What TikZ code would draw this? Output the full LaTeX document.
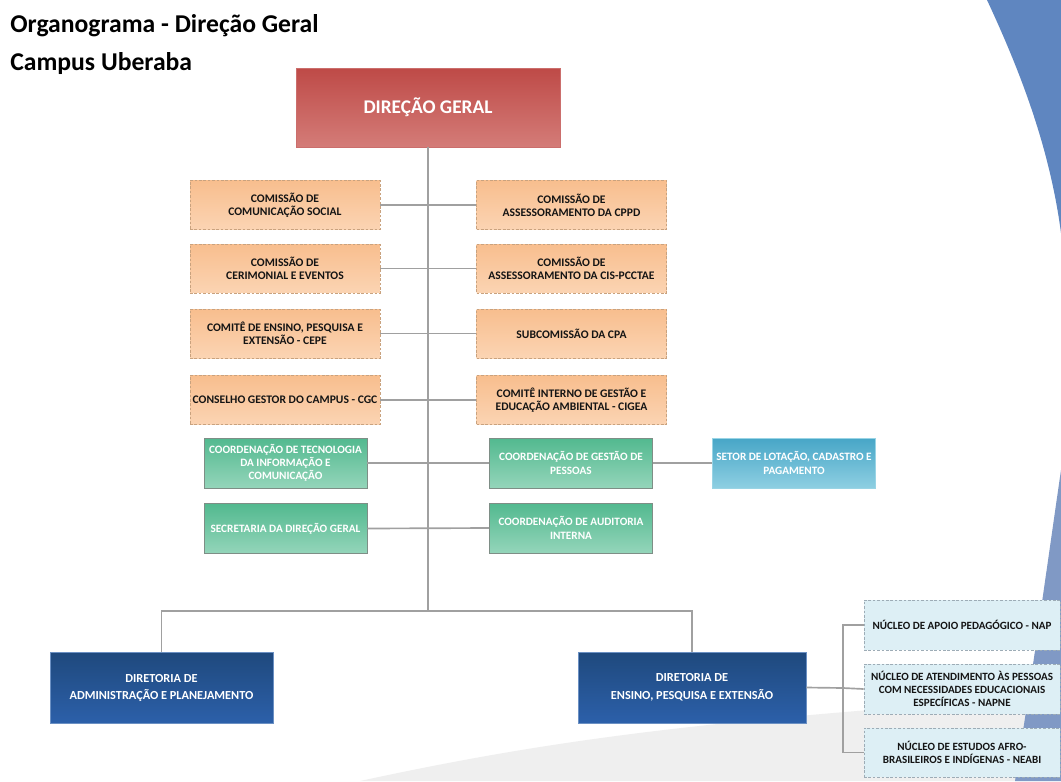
\documentclass[tikz,border=0pt]{standalone}
\usepackage{fontspec}
\setmainfont{Carlito}

\definecolor{dgtop}{HTML}{BE4A47}
\definecolor{dgbot}{HTML}{D47C78}
\definecolor{orgtop}{HTML}{F8BE8E}
\definecolor{orgbot}{HTML}{FBD4B3}
\definecolor{orgdash}{HTML}{C9A27E}
\definecolor{grntop}{HTML}{52B98F}
\definecolor{grnbot}{HTML}{94D5BA}
\definecolor{grnline}{HTML}{7E8E86}
\definecolor{settop}{HTML}{47A6C7}
\definecolor{setbot}{HTML}{8ECFE2}
\definecolor{dirtop}{HTML}{1F497D}
\definecolor{dirbot}{HTML}{2C60AA}
\definecolor{nucfill}{HTML}{DDEFF5}
\definecolor{nucdash}{HTML}{9DACB6}
\definecolor{linegray}{HTML}{A0A0A0}
\definecolor{txtdark}{HTML}{141414}
\definecolor{bgblue}{HTML}{5F86C0}
\definecolor{bgblue2}{HTML}{8099C5}
\definecolor{bggray}{HTML}{EFEFEF}

\tikzset{
  conn/.style={draw=linegray, line width=0.95pt},
  dgbox/.style={top color=dgtop, bottom color=dgbot, draw=dgtop!80!white,
    minimum width=5.28cm, minimum height=1.58cm, text=white,
    font=\fontsize{11}{13}\selectfont\bfseries},
  comissao/.style={top color=orgtop, bottom color=orgbot, draw=orgdash,
    dash pattern=on 1.5pt off 1pt, minimum width=3.8cm, minimum height=0.98cm,
    align=center, inner sep=1pt, text=txtdark,
    font=\fontsize{6.6}{7.6}\selectfont\bfseries},
  coordbox/.style={top color=grntop, bottom color=grnbot, draw=grnline,
    minimum width=3.26cm, minimum height=1cm, align=center, inner sep=1pt,
    text=white, font=\fontsize{6.4}{7.6}\selectfont\bfseries},
  setorbox/.style={coordbox, top color=settop, bottom color=setbot,
    draw=setbot!90!white},
  dirbox/.style={top color=dirtop, bottom color=dirbot, draw=dirbot!70!white,
    minimum height=1.42cm, align=center, inner sep=1pt, text=white,
    font=\fontsize{7}{10}\selectfont\bfseries},
  nucleo/.style={fill=nucfill, draw=nucdash, dash pattern=on 1.5pt off 1pt,
    minimum width=3.92cm, minimum height=1cm, align=center, inner sep=1pt,
    text=txtdark, font=\fontsize{6.3}{7.5}\selectfont\bfseries}
}

\begin{document}
\begin{tikzpicture}[x=0.02cm,y=-0.02cm]
% page and background
\fill[white] (0,0) rectangle (1061,781);
\fill[bggray] (360,781) .. controls (550,740) and (700,720) .. (1061,696) -- (1061,781) -- cycle;
\fill[bgblue] (987,0) .. controls (1022,75) and (1050,150) .. (1061,233) -- (1061,0) -- cycle;
\fill[bgblue2] (1061,470) .. controls (1045,580) and (1030,690) .. (1015,781) -- (1061,781) -- cycle;

% titles
\node[anchor=base west, inner sep=0, font=\fontsize{14.6}{18}\selectfont\bfseries] (titulo) at (10,32) {Organograma - Direção Geral};
\node[anchor=base west, inner sep=0, font=\fontsize{14.6}{18}\selectfont\bfseries] (campus) at (10,70) {Campus Uberaba};

% direcao geral
\node[dgbox] (dg) at (428,107.5) {DIREÇÃO GERAL};
\coordinate (bar) at (428,611);

% comissoes
\node[comissao] (com) at (285,205) {COMISSÃO DE\\COMUNICAÇÃO SOCIAL};
\node[comissao] (cer) at (285,268.5) {COMISSÃO DE\\CERIMONIAL E EVENTOS};
\node[comissao] (cepe) at (285,333.5) {COMITÊ DE ENSINO, PESQUISA E\\EXTENSÃO - CEPE};
\node[comissao] (cgc) at (285,400) {CONSELHO GESTOR DO CAMPUS - CGC};
\node[comissao] (cppd) at (571.5,205) {COMISSÃO DE\\ASSESSORAMENTO DA CPPD};
\node[comissao] (cis) at (571.5,268.5) {COMISSÃO DE\\ASSESSORAMENTO DA CIS-PCCTAE};
\node[comissao] (cpa) at (571.5,333.5) {SUBCOMISSÃO DA CPA};
\node[comissao] (cigea) at (571.5,400) {COMITÊ INTERNO DE GESTÃO E\\EDUCAÇÃO AMBIENTAL - CIGEA};

% coordenacoes
\node[coordbox] (cti) at (285.5,463) {COORDENAÇÃO DE TECNOLOGIA\\DA INFORMAÇÃO E\\COMUNICAÇÃO};
\node[coordbox] (sec) at (285.5,528.5) {SECRETARIA DA DIREÇÃO GERAL};
\node[coordbox] (cgp) at (571,463) {COORDENAÇÃO DE GESTÃO DE\\PESSOAS};
\node[coordbox] (cai) at (571,528) {COORDENAÇÃO DE AUDITORIA\\INTERNA};
\node[setorbox] (slcp) at (794,463) {SETOR DE LOTAÇÃO, CADASTRO E\\PAGAMENTO};

% diretorias
\node[dirbox, minimum width=4.46cm] (dap) at (161.5,688) {DIRETORIA DE\\ADMINISTRAÇÃO E PLANEJAMENTO};
\node[dirbox, minimum width=4.56cm] (dpe) at (692,687.5) {DIRETORIA DE\\ENSINO, PESQUISA E EXTENSÃO};
\coordinate (garfo) at (843,688);

% nucleos
\node[nucleo] (nap) at (962,625) {NÚCLEO DE APOIO PEDAGÓGICO - NAP};
\node[nucleo] (napne) at (962,689) {NÚCLEO DE ATENDIMENTO ÀS PESSOAS\\COM NECESSIDADES EDUCACIONAIS\\ESPECÍFICAS - NAPNE};
\node[nucleo, minimum height=0.98cm] (neabi) at (962,752.5) {NÚCLEO DE ESTUDOS AFRO-\\BRASILEIROS E INDÍGENAS - NEABI};

% ligacoes
\draw[conn] (dg.south) -- (bar);
\draw[conn] (com.east) -- (cppd.west);
\draw[conn] (cer.east) -- (cis.west);
\draw[conn] (cepe.east) -- (cpa.west);
\draw[conn] (cgc.east) -- (cigea.west);
\draw[conn] (cti.east) -- (cgp.west);
\draw[conn] (sec.east) -- (cai.west);
\draw[conn] (cgp.east) -- (slcp.west);
\draw[conn] (dap.north) |- (bar) -| (dpe.north);
\draw[conn] (dpe.east) -- (garfo);
\draw[conn] (nap.west) -| (garfo) |- (neabi.west);
\draw[conn] (garfo) -- (napne.west);
\end{tikzpicture}
\end{document}
